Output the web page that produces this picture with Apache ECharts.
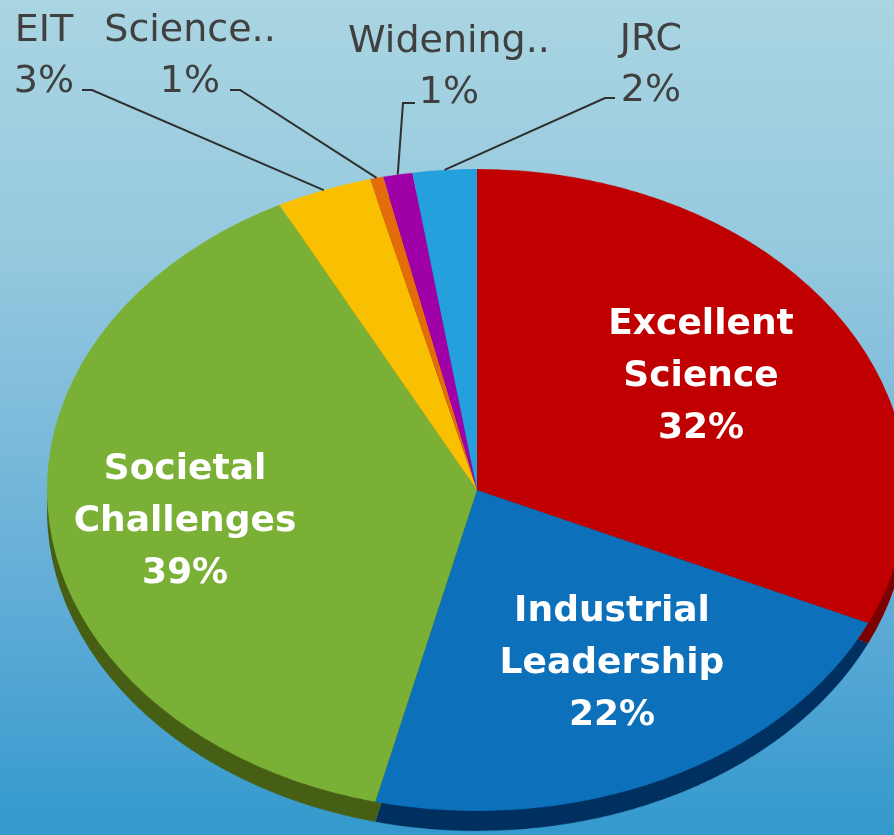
<!DOCTYPE html>
<html>
<head>
    <meta charset="UTF-8">
    <title>Horizon 2020 budget breakdown</title>
    <script src="https://cdn.jsdelivr.net/npm/echarts/dist/echarts.min.js"></script>
    <style>
        html, body { margin: 0; padding: 0; width: 894px; height: 835px; overflow: hidden; }
        body {
            position: relative;
            background: linear-gradient(to bottom, #aad5e2 0%, #95c9de 30%, #78b8da 55%, #57a8d5 78%, #3399cd 100%);
        }
        /* the pie is drawn as a circle and squashed into an ellipse */
        #pie { position: absolute; left: 0; top: 0; width: 894px; height: 1000px;
               transform-origin: 477px 490px; transform: scaleY(0.7465); }
        #labels { position: absolute; left: 0; top: 0; width: 894px; height: 835px; }
    </style>
</head>
<body>
<div id="pie"></div>
<div id="labels"></div>
<script type="text/javascript">
    // data
    var categories = ['Excellent Science', 'Industrial Leadership', 'Societal Challenges', 'EIT', 'Science..', 'Widening..', 'JRC'];
    var shares = [31.8, 22.0, 38.6, 3.6, 0.5, 1.1, 2.4];
    var pctLabels = ['32%', '22%', '39%', '3%', '1%', '1%', '2%'];

    var topColors = ['#c00000', '#0c70ba', '#7ab036', '#f8c000', '#e46c0a', '#a000a8', '#24a0dc'];
    var sideColors = ['#7d0000', '#003060', '#465f14', '#a07a00', '#8f4306', '#600066', '#146a94'];

    // ellipse geometry (page pixels)
    var CX = 477, CY = 490, RX = 430, RY = 321, DEPTH = 20;
    var SQUASH = RY / RX;

    function pieData(colors) {
        return categories.map(function (c, i) {
            return {name: c, value: shares[i], itemStyle: {color: colors[i]}};
        });
    }

    var pieChart = echarts.init(document.getElementById('pie'));
    var pieBase = {
        type: 'pie',
        silent: true,
        radius: RX,
        startAngle: 90,
        clockwise: true,
        label: {show: false},
        labelLine: {show: false},
        itemStyle: {borderWidth: 0}
    };
    pieChart.setOption({
        animation: false,
        series: [
            Object.assign({}, pieBase, {center: [CX, CY + DEPTH / SQUASH], data: pieData(sideColors), z: 1}),
            Object.assign({}, pieBase, {center: [CX, CY], data: pieData(topColors), z: 2})
        ]
    });

    // point on the top rim at the middle of slice i
    var total = shares.reduce(function (a, b) { return a + b; }, 0);
    function rimPoint(i) {
        var before = 0;
        for (var k = 0; k < i; k++) before += shares[k];
        var a = (before + shares[i] / 2) / total * 2 * Math.PI;
        return [CX + RX * Math.sin(a), CY - RY * Math.cos(a)];
    }

    // label layout
    var labelPos = [[701, 377], [612, 664], [185, 522], [44, 57], [190, 57], [449, 68], [651, 66]];
    var leaderStart = {3: [[82, 90], [92, 90]], 4: [[230, 90], [240, 90]], 5: [[415, 103], [403, 103]], 6: [[615, 98], [605, 98]]};

    var elements = [];
    categories.forEach(function (c, i) {
        var inside = i < 3;
        var text = inside ? c.replace(' ', '\n') + '\n' + pctLabels[i] : c + '\n' + pctLabels[i];
        elements.push({
            type: 'text',
            x: labelPos[i][0],
            y: labelPos[i][1],
            z: 20,
            style: {
                text: text,
                fontFamily: 'DejaVu Sans',
                fontWeight: inside ? 'bold' : 'normal',
                fontSize: inside ? 36 : 38,
                lineHeight: inside ? 52 : 51,
                fill: inside ? '#ffffff' : '#404040',
                textAlign: 'center',
                textVerticalAlign: 'middle',
                align: 'center',
                verticalAlign: 'middle'
            }
        });
        if (leaderStart[i]) {
            elements.push({
                type: 'polyline',
                z: 10,
                shape: {points: leaderStart[i].concat([rimPoint(i)])},
                style: {stroke: '#2f2f2f', lineWidth: 2, fill: null}
            });
        }
    });

    var labelChart = echarts.init(document.getElementById('labels'));
    labelChart.setOption({
        animation: false,
        graphic: {elements: elements}
    });
</script>
</body>
</html>
